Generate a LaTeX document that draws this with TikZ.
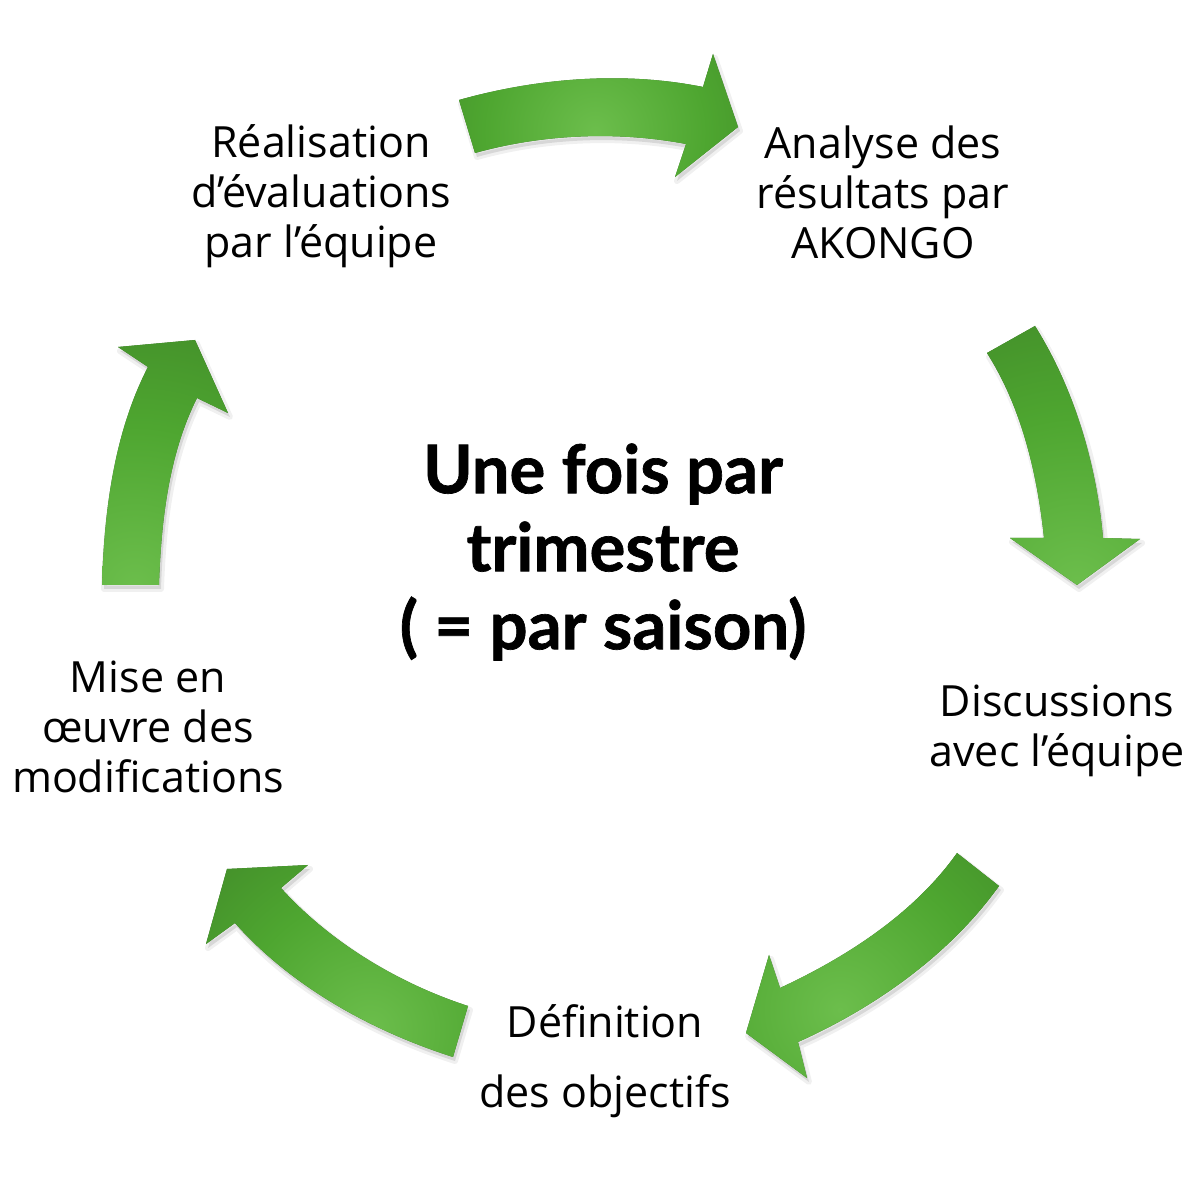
\documentclass[tikz,border=0pt]{standalone}
\usepackage{fontspec}
\setmainfont{Open Sans}
\newfontfamily\ctrfont[BoldFeatures={FakeBold=1}]{Lato}
\definecolor{gLight}{RGB}{108,190,76}
\definecolor{gMid}{RGB}{78,166,48}
\definecolor{gDark}{RGB}{50,106,32}
\pgfdeclareradialshading{arrowglow}{\pgfpoint{0bp}{0bp}}{color(0bp)=(gLight); color(14bp)=(gMid); color(40bp)=(gDark); color(50bp)=(gDark)}
\begin{document}
\begin{tikzpicture}[x=1pt,y=1pt,
  lbl/.style={align=center, text=black, font=\fontsize{43}{50}\selectfont, inner sep=0pt},
  ctr/.style={align=center, text=black, font=\ctrfont\bfseries\fontsize{67}{78}\selectfont, inner sep=0pt},
  arrowshadow/.style={fill=black, fill opacity=0.10, draw=black, draw opacity=0.06, line width=6pt, line join=round, shift={(2,-4)}}
]
\useasboundingbox (0,0) rectangle (1200,1200);
\fill[white] (0,0) rectangle (1200,1200);

% arrow outlines
\def\arrowA{(459,1100) to[out=15.7,in=168.6,looseness=0.85] (703,1113) -- (713,1146) -- (738,1073) -- (675,1023) -- (686,1056) to[out=169.3,in=15.6,looseness=0.85] (475,1047) -- cycle}
\def\arrowB{(1035,874) to[out=-58,in=95,looseness=0.85] (1103,662) -- (1140,661) -- (1077,615) -- (1010,662) -- (1044,662) to[out=96,in=-57.5,looseness=0.85] (987,847) -- cycle}
\def\arrowC{(999,314) to[out=-125.6,in=24.1,looseness=0.85] (798,158) -- (807,122) -- (746,167) -- (769,245) -- (780,212) to[out=24.9,in=-125.3,looseness=0.85] (957,347) -- cycle}
\def\arrowD{(453,143) to[out=162.2,in=-48.5,looseness=0.85] (235,277) -- (206,256) -- (227,331) -- (308,335) -- (281,312) to[out=-47.9,in=162,looseness=0.85] (468,194) -- cycle}
\def\arrowE{(102,615) to[out=88.3,in=242.7,looseness=0.85] (148,833) -- (118,853) -- (195,860) -- (228,787) -- (197,802) to[out=243.4,in=88.1,looseness=0.85] (159,615) -- cycle}

% shadows
\path[arrowshadow] \arrowA;
\path[arrowshadow] \arrowB;
\path[arrowshadow] \arrowC;
\path[arrowshadow] \arrowD;
\path[arrowshadow] \arrowE;

% arrow bodies
\fill[gDark] \arrowA;
\begin{scope}\clip \arrowA; \shade[shading=arrowglow] (595,1068) circle (200); \end{scope}
\fill[gDark] \arrowB;
\begin{scope}\clip \arrowB; \shade[shading=arrowglow] (1077,615) circle (300); \end{scope}
\fill[gDark] \arrowC;
\begin{scope}\clip \arrowC; \shade[shading=arrowglow] (840,190) circle (260); \end{scope}
\fill[gDark] \arrowD;
\begin{scope}\clip \arrowD; \shade[shading=arrowglow] (370,170) circle (240); \end{scope}
\fill[gDark] \arrowE;
\begin{scope}\clip \arrowE; \shade[shading=arrowglow] (135,612) circle (290); \end{scope}

% labels
\node[lbl] (realisation) at (321,1004) {Réalisation\\d’évaluations\\par l’équipe};
\node[lbl] (analyse) at (883,1008) {Analyse des\\résultats par\\AKONGO};
\node[lbl] (discussions) at (1057,469) {Discussions\\avec l’équipe};
\node[lbl, font=\fontsize{43}{70}\selectfont] (definition) at (605,139) {Définition\\des objectifs};
\node[lbl] (miseenoeuvre) at (148,473) {Mise en\\œuvre des\\modifications};
\node[ctr] (centre) at (603,648) {Une fois par\\trimestre\\( = par saison)};
\end{tikzpicture}
\end{document}
